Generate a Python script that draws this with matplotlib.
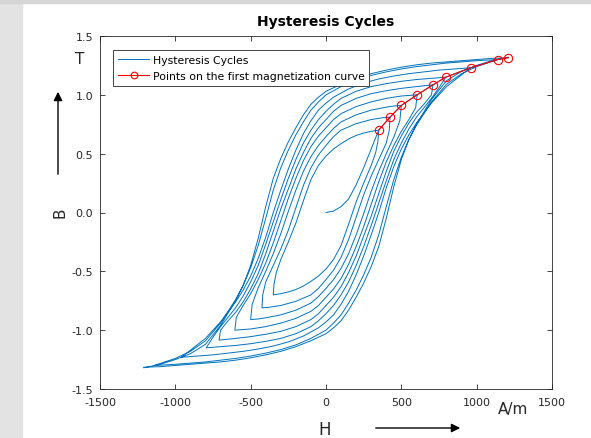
import numpy as np
import matplotlib.pyplot as plt
from matplotlib.patches import Rectangle

# first magnetization curve (start from demagnetized state)
init_H = [0, 50, 100, 150, 200, 250, 300, 350]
init_B = [0.0, 0.012, 0.05, 0.115, 0.235, 0.38, 0.54, 0.70]

# descending branches of each cycle [A/m], [T]; ascending branch is the point mirror
desc_H_1 = [350, 300, 250, 200, 150, 100, 50, 0, -50, -100, -150, -200, -250, -300, -330, -345, -350]
desc_B_1 = [0.70, 0.69, 0.675, 0.655, 0.625, 0.585, 0.54, 0.48, 0.40, 0.28, 0.10, -0.09, -0.25, -0.40, -0.51, -0.61, -0.70]

desc_H_2 = [425, 375, 300, 200, 100, 50, 0, -50, -100, -150, -200, -250, -300, -350, -400, -420, -425]
desc_B_2 = [0.81, 0.805, 0.79, 0.755, 0.70, 0.645, 0.57, 0.49, 0.38, 0.23, 0.04, -0.15, -0.31, -0.45, -0.59, -0.70, -0.81]

desc_H_3 = [500, 450, 400, 300, 200, 100, 50, 0, -50, -100, -150, -200, -250, -300, -350, -400, -450, -490, -500]
desc_B_3 = [0.91, 0.905, 0.895, 0.87, 0.83, 0.77, 0.715, 0.645, 0.57, 0.475, 0.35, 0.19, 0.01, -0.18, -0.35, -0.50, -0.64, -0.78, -0.91]

desc_H_4 = [605, 550, 500, 400, 300, 200, 100, 50, 0, -50, -100, -150, -200, -250, -300, -350, -400, -450, -500, -550, -595, -605]
desc_B_4 = [1.00, 0.995, 0.99, 0.97, 0.94, 0.90, 0.84, 0.79, 0.72, 0.65, 0.56, 0.44, 0.29, 0.12, -0.07, -0.26, -0.43, -0.57, -0.69, -0.79, -0.89, -1.00]

desc_H_5 = [710, 600, 500, 400, 300, 200, 100, 50, 0, -50, -100, -150, -200, -250, -300, -350, -400, -450, -500, -550, -600, -650, -700, -710]
desc_B_5 = [1.085, 1.07, 1.055, 1.035, 1.01, 0.97, 0.91, 0.86, 0.79, 0.72, 0.63, 0.51, 0.37, 0.20, 0.03, -0.16, -0.35, -0.52, -0.65, -0.76, -0.85, -0.92, -1.00, -1.085]

desc_H_6 = [795, 700, 600, 500, 400, 300, 200, 100, 50, 0, -50, -100, -150, -200, -250, -300, -350, -400, -450, -500, -550, -600, -650, -700, -750, -795]
desc_B_6 = [1.15, 1.14, 1.13, 1.115, 1.095, 1.07, 1.03, 0.97, 0.92, 0.86, 0.79, 0.70, 0.59, 0.45, 0.29, 0.11, -0.08, -0.27, -0.45, -0.59, -0.71, -0.81, -0.89, -0.97, -1.06, -1.15]

desc_H_7 = [960, 850, 750, 650, 550, 450, 350, 250, 150, 50, 0, -50, -100, -150, -200, -250, -300, -350, -400, -450, -500, -550, -600, -700, -800, -900, -960]
desc_B_7 = [1.23, 1.22, 1.21, 1.195, 1.18, 1.16, 1.135, 1.10, 1.05, 0.98, 0.93, 0.87, 0.78, 0.67, 0.53, 0.37, 0.19, 0.00, -0.21, -0.39, -0.54, -0.66, -0.76, -0.93, -1.07, -1.17, -1.23]

desc_H_8 = [1140, 1000, 900, 800, 700, 600, 500, 400, 300, 200, 100, 0, -50, -100, -150, -200, -250, -300, -350, -400, -450, -500, -550, -600, -700, -800, -900, -1000, -1140]
desc_B_8 = [1.30, 1.29, 1.28, 1.27, 1.255, 1.24, 1.22, 1.195, 1.165, 1.125, 1.07, 1.00, 0.94, 0.87, 0.77, 0.66, 0.53, 0.38, 0.19, -0.05, -0.28, -0.47, -0.62, -0.74, -0.94, -1.09, -1.18, -1.24, -1.30]

desc_H_9 = [1210, 1100, 1000, 900, 800, 700, 600, 500, 400, 300, 200, 100, 0, -50, -100, -150, -200, -250, -300, -350, -400, -450, -500, -550, -600, -700, -800, -900, -1000, -1100, -1210]
desc_B_9 = [1.315, 1.31, 1.30, 1.29, 1.28, 1.27, 1.255, 1.235, 1.21, 1.18, 1.14, 1.09, 1.03, 0.98, 0.92, 0.83, 0.72, 0.60, 0.46, 0.29, 0.05, -0.22, -0.45, -0.62, -0.75, -0.96, -1.12, -1.20, -1.25, -1.29, -1.32]

# loop tips = points on the first magnetization curve
tip_H = [350, 425, 500, 605, 710, 795, 960, 1140, 1210]
tip_B = [0.70, 0.81, 0.91, 1.00, 1.085, 1.15, 1.23, 1.30, 1.315]

x_ticks = [-1500, -1000, -500, 0, 500, 1000, 1500]
y_ticks = [-1.5, -1.0, -0.5, 0.0, 0.5, 1.0, 1.5]

branches = [(desc_H_1, desc_B_1), (desc_H_2, desc_B_2), (desc_H_3, desc_B_3),
            (desc_H_4, desc_B_4), (desc_H_5, desc_B_5), (desc_H_6, desc_B_6),
            (desc_H_7, desc_B_7), (desc_H_8, desc_B_8), (desc_H_9, desc_B_9)]

H_all = [np.array(init_H, float)]
B_all = [np.array(init_B, float)]
for h, b in branches:
    h = np.array(h, float)
    b = np.array(b, float)
    H_all += [h, -h]
    B_all += [b, -b]
H_all = np.concatenate(H_all)
B_all = np.concatenate(B_all)

grey = '#262626'
fig = plt.figure(figsize=(5.91, 4.39), dpi=100)
fig.patches.append(Rectangle((0, 0), 22 / 591, 1, transform=fig.transFigure, color='#e3e3e3', zorder=0))
fig.patches.append(Rectangle((0, 1 - 4 / 439), 1, 4 / 439, transform=fig.transFigure, color='#d6d6d6', zorder=0))

ax = fig.add_axes([100 / 591, 1 - 390 / 439, 452 / 591, 353 / 439])
ax.plot(H_all, B_all, '-', color='#0072BD', lw=0.7, label='Hysteresis Cycles')
ax.plot(tip_H, tip_B, '-o', color='#FF0000', lw=0.8, markersize=6, markerfacecolor='none',
        markeredgewidth=0.8, label='Points on the first magnetization curve')

ax.set_xlim(-1500, 1500)
ax.set_ylim(-1.5, 1.5)
ax.set_xticks(x_ticks)
ax.set_yticks(y_ticks)
ax.set_xticklabels([str(v) for v in x_ticks])
ax.set_yticklabels(['%.1f' % v for v in y_ticks])
ax.tick_params(direction='in', top=True, right=True, length=3.5, width=0.6,
               labelsize=8, colors=grey)
ax.tick_params(axis='x', pad=6)
ax.tick_params(axis='y', pad=5)
for s in ax.spines.values():
    s.set_color(grey)
    s.set_linewidth(0.6)

ax.set_title('Hysteresis Cycles', fontsize=10, fontweight='bold', pad=8)

leg = ax.legend(loc='upper left', bbox_to_anchor=(13 / 452, 1 - 14 / 353), borderaxespad=0,
                fontsize=7.8, fancybox=False, framealpha=1, edgecolor=grey, markerscale=0.8,
                handlelength=2.9, handletextpad=0.3, borderpad=0.45, labelspacing=0.55)
leg.get_frame().set_linewidth(0.6)

# axis annotations outside the axes
fig.text(80 / 591, 1 - 60 / 439, 'T', fontsize=11, color=grey, ha='center', va='center')
fig.text(60 / 591, 1 - 213 / 439, 'B', fontsize=11, color=grey, ha='center', va='center', rotation=90)
fig.text(325 / 591, 1 - 430 / 439, 'H', fontsize=12, color=grey, ha='center', va='center')
fig.text(513 / 591, 1 - 410 / 439, 'A/m', fontsize=11, color=grey, ha='center', va='center')
ax.annotate('', xy=(58 / 591, 1 - 90 / 439), xytext=(58 / 591, 1 - 178 / 439),
            xycoords='figure fraction', textcoords='figure fraction',
            arrowprops=dict(arrowstyle='-|>', color='k', lw=1.0, mutation_scale=13))
ax.annotate('', xy=(463 / 591, 1 - 429 / 439), xytext=(373 / 591, 1 - 429 / 439),
            xycoords='figure fraction', textcoords='figure fraction',
            arrowprops=dict(arrowstyle='-|>', color='k', lw=1.0, mutation_scale=13))

fig.savefig('out.png', dpi=100)
